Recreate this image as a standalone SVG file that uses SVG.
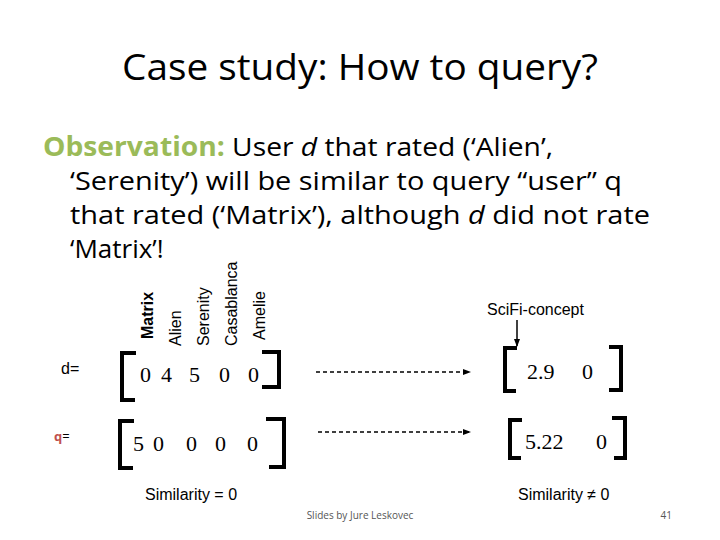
<svg xmlns="http://www.w3.org/2000/svg" width="720" height="540" viewBox="0 0 720 540">
<style>
.t{font-family:"Open Sans","Liberation Sans",sans-serif;fill:#000}
.m{font-family:"Liberation Serif",serif;font-size:22px;fill:#000}
.c{font-family:"Liberation Sans",sans-serif;font-size:16px;fill:#000}
.b{fill:none;stroke:#000;stroke-width:4}
.d{stroke:#000;stroke-width:1.5;stroke-dasharray:4,3}
</style>
<defs><marker id="a" markerWidth="8" markerHeight="8" refX="7" refY="4" orient="auto" markerUnits="userSpaceOnUse"><path d="M0,1 L8,4 L0,7Z" fill="#000"/></marker></defs>
<rect width="720" height="540" fill="#fff"/>
<text class="t" x="360" y="80" font-size="37" text-anchor="middle" textLength="476" lengthAdjust="spacingAndGlyphs">Case study: How to query?</text>
<g id="obs" class="t" font-size="26">
<text x="43" y="156" textLength="510" lengthAdjust="spacingAndGlyphs"><tspan fill="#9BBB59" font-weight="bold">Observation:</tspan> User <tspan font-style="italic">d</tspan> that rated (‘Alien’,</text>
<text x="70" y="190" textLength="552" lengthAdjust="spacingAndGlyphs">‘Serenity’) will be similar to query “user” q</text>
<text x="70" y="224" textLength="580" lengthAdjust="spacingAndGlyphs">that rated (‘Matrix’),  although <tspan font-style="italic">d</tspan> did not rate</text>
<text x="70" y="258">‘Matrix’!</text>
</g>
<g id="cols" class="c">
<text transform="translate(153,339) rotate(-90)" font-weight="bold">Matrix</text>
<text transform="translate(181,346) rotate(-90)">Alien</text>
<text transform="translate(209,346) rotate(-90)">Serenity</text>
<text transform="translate(237,346) rotate(-90)">Casablanca</text>
<text transform="translate(265,340) rotate(-90)">Amelie</text>
</g>
<g id="d">
<text class="c" x="61" y="374" font-size="13">d=</text>
<path class="b" d="M136,353 H122 V400 H135"/>
<path class="b" d="M262,352 H279 V387 H262"/>
<text class="m" x="140" y="382">0</text><text class="m" x="161" y="382">4</text><text class="m" x="189" y="382">5</text><text class="m" x="219" y="382">0</text><text class="m" x="248" y="382">0</text>
</g>
<g id="q">
<text x="54" y="441" font-family="Open Sans,sans-serif" font-size="13"><tspan fill="#C0504D" font-weight="bold">q</tspan>=</text>
<path class="b" d="M134,421 H120 V468 H133"/>
<path class="b" d="M266,419 H284 V467 H269"/>
<text class="m" x="133" y="451">5</text><text class="m" x="153" y="451">0</text><text class="m" x="186" y="451">0</text><text class="m" x="215" y="451">0</text><text class="m" x="247" y="451">0</text>
</g>
<g id="dc">
<text class="c" x="487" y="315" font-size="13">SciFi-concept</text>
<path class="b" d="M517,348 H505 V391 H516"/>
<path class="b" d="M609,347 H621 V390 H609"/>
<text class="m" x="527" y="379" font-size="23">2.9</text><text class="m" x="582" y="379" font-size="23">0</text>
</g>
<g id="qc">
<path class="b" d="M522,420 H510 V458 H521"/>
<path class="b" d="M612,418 H625 V458 H614"/>
<text class="m" x="525" y="449" font-size="25">5.22</text><text class="m" x="596" y="449" font-size="25">0</text>
</g>
<g id="connectors">
<line x1="517" y1="320" x2="517" y2="346" stroke="#000" stroke-width="1.5" marker-end="url(#a)"/>
<line class="d" x1="316" y1="372" x2="470" y2="372" marker-end="url(#a)"/>
<line class="d" x1="318" y1="432" x2="470" y2="432" marker-end="url(#a)"/>
</g>
<text x="145" y="500" font-family="Liberation Sans,sans-serif" font-size="16">Similarity = 0</text>
<text x="518" y="500" font-family="Liberation Sans,sans-serif" font-size="16">Similarity ≠ 0</text>
<text x="360" y="519" text-anchor="middle" font-family="Open Sans,sans-serif" font-size="10" fill="#555">Slides by Jure Leskovec</text>
<text x="672" y="519" text-anchor="end" font-family="Open Sans,sans-serif" font-size="10" fill="#555">41</text>
</svg>
